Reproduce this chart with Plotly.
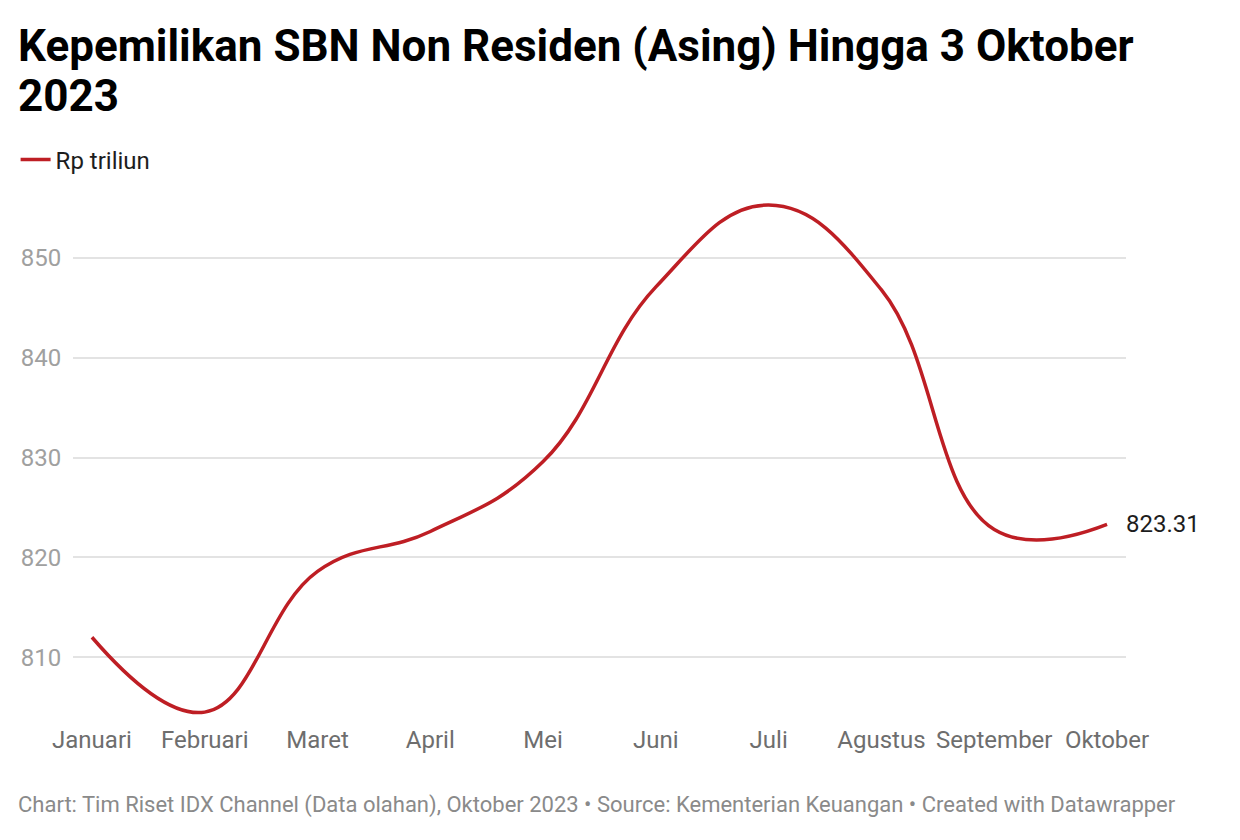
import plotly.graph_objects as go

months = ["Januari", "Februari", "Maret", "April", "Mei", "Juni", "Juli",
          "Agustus", "September", "Oktober"]
values = [812.0, 804.5, 818.6, 822.6, 829.6, 847.1, 855.3, 846.8, 822.8, 823.31]
y_ticks = [810, 820, 830, 840, 850]
series_name = "Rp triliun"
title_lines = ["Kepemilikan SBN Non Residen (Asing) Hingga 3 Oktober", "2023"]
footer_text = ("Chart: Tim Riset IDX Channel (Data olahan), Oktober 2023 • "
               "Source: Kementerian Keuangan • Created with Datawrapper")

LINE = "#BE1E24"
FONT = "Roboto"
W, H = 1240, 840
OFF = 8  # page body margin
ML, MT = 65, 182
PW, PH = 1053, 530
MR, MB = W - ML - PW, H - MT - PH


def px_x(p):
    return (p - OFF - ML) / PW


def px_y(p):
    return 1 - (p - OFF - MT) / PH


x_idx = list(range(len(months)))

fig = go.Figure()
fig.add_trace(go.Scatter(
    x=x_idx, y=values, mode="lines", name=series_name,
    line=dict(color=LINE, width=3.5, shape="spline", smoothing=1.2),
    hoverinfo="x+y",
))

# end value label
fig.add_annotation(
    x=x_idx[-1], y=values[-1], xref="x", yref="y",
    text=f"{values[-1]:.2f}", showarrow=False, xanchor="left", yanchor="middle",
    xshift=17, font=dict(family=FONT, size=24, color="#1d1d1d"),
)

# title (two lines, tight leading)
for line_text, cy in zip(title_lines, [45.5, 96]):
    fig.add_annotation(
        x=px_x(16), y=px_y(cy), xref="paper", yref="paper",
        text="<b>" + line_text + "</b>", showarrow=False,
        xanchor="left", yanchor="middle", align="left",
        font=dict(family=FONT, size=44, color="#000"),
    )

# footer
fig.add_annotation(
    x=px_x(16), y=px_y(805), xref="paper", yref="paper", text=footer_text,
    showarrow=False, xanchor="left", yanchor="middle",
    font=dict(family=FONT, size=22, color="#8a8a8a"),
)

fig.update_layout(
    width=W, height=H,
    paper_bgcolor="white", plot_bgcolor="white",
    margin=dict(l=ML, r=MR, t=MT, b=MB, autoexpand=False),
    font=dict(family=FONT, color="#333"),
    showlegend=True,
    legend=dict(
        orientation="h", x=px_x(15.6), xanchor="left", y=px_y(160), yanchor="middle",
        font=dict(family=FONT, size=24, color="#1d1d1d"),
        itemwidth=30, bgcolor="rgba(0,0,0,0)",
    ),
    xaxis=dict(
        tickmode="array", tickvals=x_idx, ticktext=months,
        range=[-0.168, len(months) - 1 + 0.168],
        showgrid=False, zeroline=False, showline=False, ticks="",
        ticklabelstandoff=3,
        tickfont=dict(family=FONT, size=24, color="#6e6e6e"),
        fixedrange=True,
    ),
    yaxis=dict(
        tickmode="array", tickvals=y_ticks, ticktext=[str(v) for v in y_ticks],
        range=[803.71, 856.81],
        showgrid=True, gridcolor="#e3e3e3", gridwidth=1.5,
        zeroline=False, showline=False,
        ticks="outside", ticklen=6, tickcolor="rgba(0,0,0,0)",
        tickfont=dict(family=FONT, size=24, color="#a0a0a0"),
        fixedrange=True,
    ),
)

fig.write_html("out.html")
